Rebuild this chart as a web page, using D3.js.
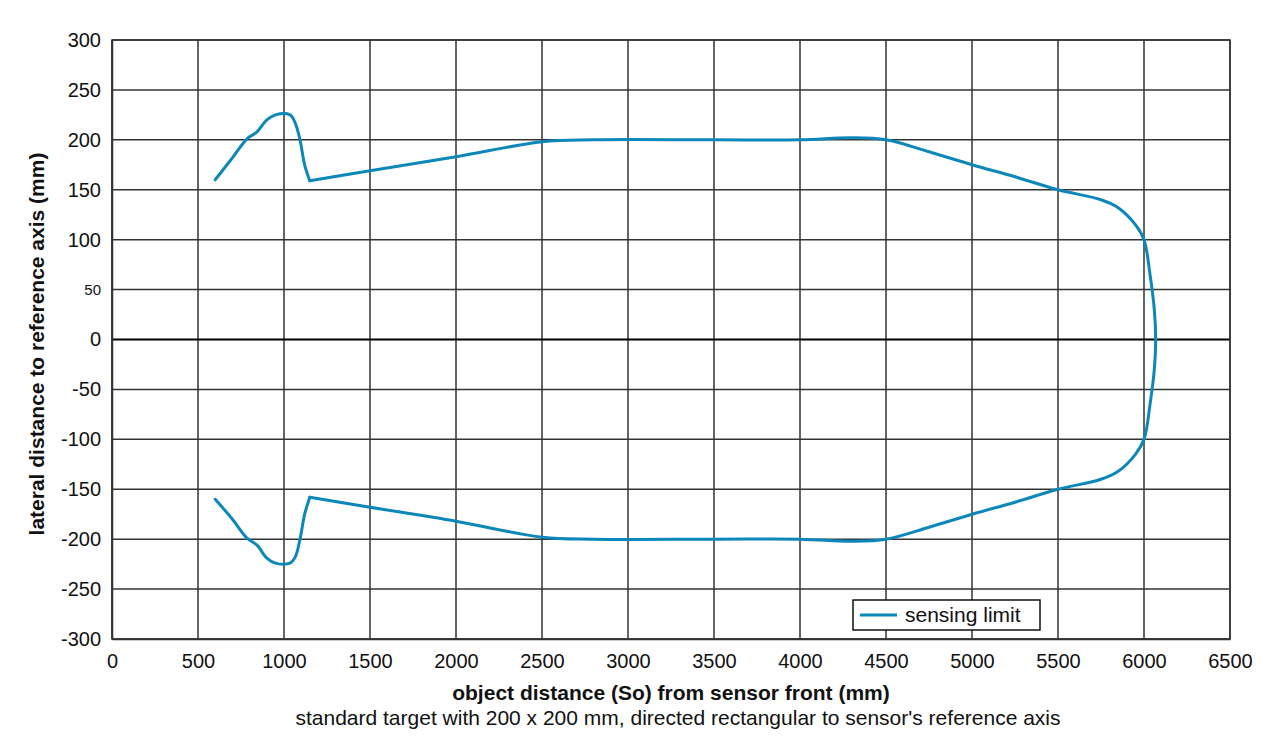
<!DOCTYPE html>
<html>
<head>
<meta charset="utf-8">
<script src="https://cdn.jsdelivr.net/npm/d3@7"></script>
<style>
  body { margin: 0; background: #fff; }
  text { font-family: "Liberation Sans", Arial, sans-serif; fill: #111; }
</style>
</head>
<body>
<svg id="chart" width="1280" height="740"></svg>
<script>
// sensing limit contour: upper branch out to the tip, then lower branch back
var distX = [600, 700, 785, 843, 900, 950, 1035, 1065, 1093, 1120, 1150, 1500, 2000, 2500, 2800, 3500, 4000, 4300, 4500, 4750, 5000, 5250, 5500, 5750, 5850, 5950, 6000, 6035, 6060, 6068,
             6060, 6035, 6000, 5950, 5850, 5750, 5500, 5250, 5000, 4750, 4500, 4300, 4000, 3500, 2800, 2500, 2000, 1500, 1150, 1120, 1093, 1065, 1035, 950, 900, 843, 785, 700, 600];
var latY  = [160, 182, 201, 208, 220, 225, 225, 217, 200, 175, 159, 169, 183, 198, 200, 200, 200, 202, 200, 188, 175, 163, 150, 140, 132, 115, 100, 65, 30, 0,
             -30, -65, -100, -115, -132, -140, -150, -163, -175, -188, -200, -202, -200, -200, -200, -198, -182, -168, -158, -175, -200, -218, -224, -224, -219, -206, -199, -180, -160];
// sharp corners of the contour (index into the arrays above)
var corners = [10, 48];

var xTicks = [0, 500, 1000, 1500, 2000, 2500, 3000, 3500, 4000, 4500, 5000, 5500, 6000, 6500];
var yTicks = [300, 250, 200, 150, 100, 50, 0, -50, -100, -150, -200, -250, -300];

var svg = d3.select("#chart");
var pLeft = 112, pRight = 1230, pTop = 40, pBottom = 639;

var x = d3.scaleLinear().domain([0, 6500]).range([pLeft, pRight]);
var y = d3.scaleLinear().domain([-300, 300]).range([pBottom, pTop]);

//网格
var grid = svg.append("g");
grid.selectAll("line.v").data(xTicks).enter().append("line")
	.attr("x1", function(d) { return x(d); })
	.attr("x2", function(d) { return x(d); })
	.attr("y1", pTop).attr("y2", pBottom)
	.style("stroke", "#333").style("stroke-width", 1.5);
grid.selectAll("line.h").data(yTicks).enter().append("line")
	.attr("x1", pLeft).attr("x2", pRight)
	.attr("y1", function(d) { return y(d); })
	.attr("y2", function(d) { return y(d); })
	.style("stroke", function(d) { return d === 0 ? "#000" : "#333"; })
	.style("stroke-width", function(d) { return d === 0 ? 2 : 1.5; });

//坐标轴
var xAxis = svg.append("g")
	.attr("transform", "translate(0," + pBottom + ")")
	.call(d3.axisBottom(x).tickValues(xTicks).tickFormat(String).tickSize(0).tickPadding(15));
var yAxis = svg.append("g")
	.attr("transform", "translate(" + pLeft + ",0)")
	.call(d3.axisLeft(y).tickValues(yTicks).tickFormat(String).tickSize(0).tickPadding(11));
[xAxis, yAxis].forEach(function(a) {
	a.select(".domain").style("stroke", "#333").style("stroke-width", 1.5);
	a.selectAll("text")
		.style("font-family", "Liberation Sans, Arial, sans-serif")
		.style("font-size", "20px").style("fill", "#111");
});
yAxis.selectAll(".tick text").filter(function(d) { return d === 50; })
	.style("font-size", "15px");

svg.append("rect")
	.attr("x", pLeft).attr("y", pTop)
	.attr("width", pRight - pLeft).attr("height", pBottom - pTop)
	.style("fill", "none").style("stroke", "#333").style("stroke-width", 1.5);

//曲线 (split at the sharp corners)
var pts = distX.map(function(d, i) { return [d, latY[i]]; });
var line = d3.line()
	.x(function(d) { return x(d[0]); })
	.y(function(d) { return y(d[1]); })
	.curve(d3.curveCatmullRom.alpha(0.5));
var cuts = [0].concat(corners, [pts.length - 1]);
var segs = [];
for (var k = 0; k < cuts.length - 1; k++) {
	segs.push(pts.slice(cuts[k], cuts[k + 1] + 1));
}
svg.append("g").selectAll("path")
	.data(segs).enter().append("path")
	.attr("d", line)
	.style("fill", "none")
	.style("stroke", "#0b87b9")
	.style("stroke-width", 3)
	.style("stroke-linejoin", "round")
	.style("stroke-linecap", "round");

//图例
var lg = svg.append("g").attr("transform", "translate(853,600)");
lg.append("rect").attr("width", 187).attr("height", 30)
	.style("fill", "#fff").style("stroke", "#111").style("stroke-width", 1.5);
lg.append("line").attr("x1", 7).attr("x2", 44).attr("y1", 15).attr("y2", 15)
	.style("stroke", "#0b87b9").style("stroke-width", 3);
lg.append("text").attr("x", 52).attr("y", 22).text("sensing limit")
	.style("font-size", "21px");

//标题
svg.append("text")
	.attr("x", 671).attr("y", 700)
	.attr("text-anchor", "middle")
	.style("font-size", "21px").style("font-weight", "bold")
	.text("object distance (So) from sensor front (mm)");
svg.append("text")
	.attr("x", 678).attr("y", 725)
	.attr("text-anchor", "middle")
	.style("font-size", "21px")
	.text("standard target with 200 x 200 mm, directed rectangular to sensor's reference axis");
svg.append("text")
	.attr("transform", "translate(44,344) rotate(-90)")
	.attr("text-anchor", "middle")
	.style("font-size", "21px").style("font-weight", "bold")
	.text("lateral distance to reference axis (mm)");
</script>
</body>
</html>
